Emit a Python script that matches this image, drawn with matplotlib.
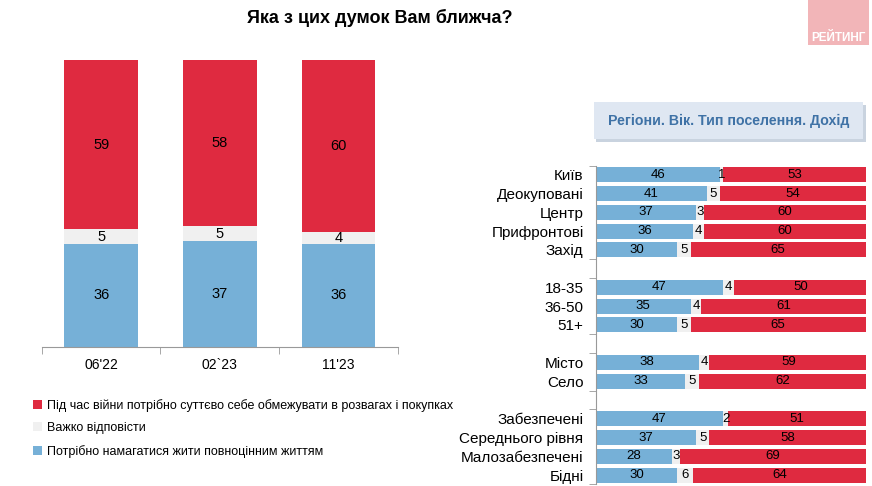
import matplotlib.pyplot as plt
from matplotlib.patches import Rectangle, FancyBboxPatch
import numpy as np

plt.rcParams['font.family'] = ['Liberation Sans', 'DejaVu Sans']

# Left chart data
waves = ["06'22", "02`23", "11'23"]
live_full = [36, 37, 36]        # blue
hard_say = [5, 5, 4]            # gray
restrict = [59, 58, 60]         # red

# Right chart data (None = blank separator row)
groups = ["Київ", "Деокуповані", "Центр", "Прифронтові", "Захід", None,
          "18-35", "36-50", "51+", None,
          "Місто", "Село", None,
          "Забезпечені", "Середнього рівня", "Малозабезпечені", "Бідні"]
g_live = [46, 41, 37, 36, 30, None, 47, 35, 30, None, 38, 33, None, 47, 37, 28, 30]
g_hard = [1, 5, 3, 4, 5, None, 4, 4, 5, None, 4, 5, None, 2, 5, 3, 6]
g_restr = [53, 54, 60, 60, 65, None, 50, 61, 65, None, 59, 62, None, 51, 58, 69, 64]

legend_labels = ["Під час війни потрібно суттєво себе обмежувати в розвагах і покупках",
                 "Важко відповісти",
                 "Потрібно намагатися жити повноцінним життям"]

RED = '#df2a40'
GRAY = '#f0f0f0'
BLUE = '#76b0d7'

fig = plt.figure(figsize=(8.72, 4.86), dpi=100)

# title
fig.text(0.436, 0.962, "Яка з цих думок Вам ближча?", ha='center', va='center',
         fontsize=13, fontweight='bold')

# logo
fig.patches.append(Rectangle((0.927, 0.908), 0.069, 0.092, transform=fig.transFigure,
                             facecolor='#f2b5b8', edgecolor='none'))
fig.text(0.961, 0.922, "РЕЙТИНГ", ha='center', va='center', color='white',
         fontsize=8.5, fontweight='bold')

# ---- left chart
ax = fig.add_axes([0.048, 0.286, 0.408, 0.5905])
x = np.arange(len(waves))
w = 0.62
b1 = ax.bar(x, live_full, w, color=BLUE)
b2 = ax.bar(x, hard_say, w, bottom=live_full, color=GRAY)
bot3 = [a + b for a, b in zip(live_full, hard_say)]
b3 = ax.bar(x, restrict, w, bottom=bot3, color=RED)
for i in range(len(waves)):
    ax.text(x[i], live_full[i] / 2, str(live_full[i]), ha='center', va='center', fontsize=10.5)
    ax.text(x[i], live_full[i] + hard_say[i] / 2, str(hard_say[i]), ha='center', va='center', fontsize=10.5)
    ax.text(x[i], bot3[i] + restrict[i] / 2, str(restrict[i]), ha='center', va='center', fontsize=10.5)
ax.set_xlim(-0.5, 2.5)
ax.set_ylim(0, 100)
ax.set_yticks([])
ax.set_xticks(x)
ax.set_xticklabels(waves, fontsize=10)
ax.tick_params(axis='x', which='major', length=0, pad=8)
ax.set_xticks([-0.5, 0.5, 1.5, 2.5], minor=True)
ax.tick_params(axis='x', which='minor', length=5, color='#999999')
for s in ['top', 'right', 'left']:
    ax.spines[s].set_visible(False)
ax.spines['bottom'].set_color('#999999')

fig.legend([b3, b2, b1], legend_labels, loc='upper left', bbox_to_anchor=(0.032, 0.19),
           frameon=False, fontsize=9, handlelength=0.75, handleheight=0.75,
           handletextpad=0.4, labelspacing=0.85, borderaxespad=0)

# ---- right chart header
fig.patches.append(FancyBboxPatch((0.684, 0.708), 0.309, 0.076, transform=fig.transFigure,
                                  boxstyle='square,pad=0', facecolor='#c9d3df',
                                  edgecolor='none'))
fig.patches.append(FancyBboxPatch((0.681, 0.714), 0.309, 0.076, transform=fig.transFigure,
                                  boxstyle='square,pad=0', facecolor='#dfe7f2',
                                  edgecolor='none'))
fig.text(0.836, 0.752, "Регіони. Вік. Тип поселення. Дохід", ha='center', va='center',
         fontsize=10.2, fontweight='bold', color='#3f72a6')

# ---- right chart
ax2 = fig.add_axes([0.6835, 0.0033, 0.3096, 0.656])
ypos = np.arange(len(groups))
h = 0.8
for i, g in enumerate(groups):
    if g is None:
        continue
    a, b, c = g_live[i], g_hard[i], g_restr[i]
    ax2.barh(i, a, h, color=BLUE)
    ax2.barh(i, b, h, left=a, color=GRAY)
    ax2.barh(i, c, h, left=a + b, color=RED)
    ax2.text(a / 2, i, str(a), ha='center', va='center', fontsize=9.5)
    ax2.text(a + b / 2, i, str(b), ha='center', va='center', fontsize=9.5)
    ax2.text(a + b + c / 2, i, str(c), ha='center', va='center', fontsize=9.5)
ax2.set_ylim(16.5, -0.5)
ax2.set_xlim(0, 100)
ax2.set_xticks([])
ax2.set_yticks(ypos)
ax2.set_yticklabels([g if g else '' for g in groups], fontsize=11)
ax2.tick_params(axis='y', which='major', length=0, pad=9)
ax2.set_yticks([-0.5, 4.5, 5.5, 8.5, 9.5, 11.5, 12.5, 16.5], minor=True)
ax2.tick_params(axis='y', which='minor', length=5, color='#999999')
for s in ['top', 'right', 'bottom']:
    ax2.spines[s].set_visible(False)
ax2.spines['left'].set_color('#999999')

plt.savefig("out.png", dpi=100)
